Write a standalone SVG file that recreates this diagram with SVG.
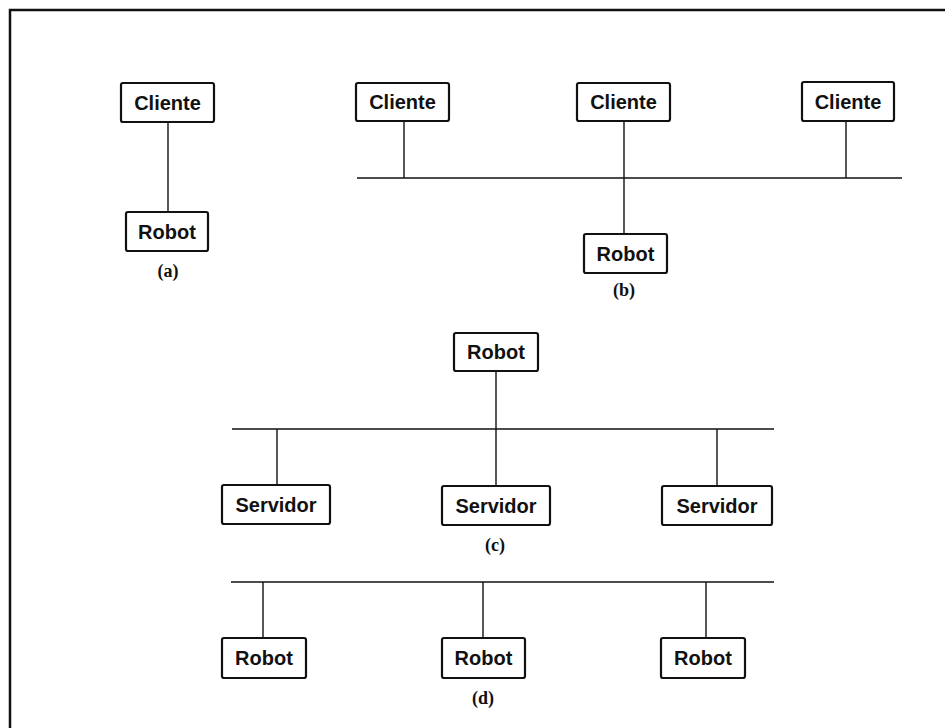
<svg xmlns="http://www.w3.org/2000/svg" width="945" height="728" viewBox="0 0 945 728">
  <style>
    .box rect { fill: #fff; stroke: #111; stroke-width: 2.2; }
    .box text { font-family: "Liberation Sans", Arial, sans-serif; font-weight: bold; font-size: 20px; fill: #111; text-anchor: middle; }
    .wire { stroke: #111; stroke-width: 1.4; fill: none; }
    .cap { font-family: "Liberation Serif", "Times New Roman", serif; font-weight: bold; font-size: 18px; fill: #111; text-anchor: middle; }
    .frame { stroke: #111; stroke-width: 2.5; fill: none; }
  </style>
  <rect width="945" height="728" fill="#fff"/>
  <!-- outer frame: top and left edges -->
  <path class="frame" d="M10,728 V10 H945"/>

  <g id="connectors">
    <!-- (a) -->
    <line class="wire" x1="168" y1="122" x2="168" y2="212"/>
    <!-- (b) -->
    <line class="wire" x1="357" y1="178" x2="902" y2="178"/>
    <line class="wire" x1="404" y1="121" x2="404" y2="178"/>
    <line class="wire" x1="624" y1="121" x2="624" y2="234"/>
    <line class="wire" x1="846" y1="121" x2="846" y2="178"/>
    <!-- (c) -->
    <line class="wire" x1="232" y1="429" x2="774" y2="429"/>
    <line class="wire" x1="496" y1="371" x2="496" y2="486"/>
    <line class="wire" x1="277" y1="429" x2="277" y2="485"/>
    <line class="wire" x1="717" y1="429" x2="717" y2="486"/>
    <!-- (d) -->
    <line class="wire" x1="231" y1="582" x2="774" y2="582"/>
    <line class="wire" x1="263" y1="582" x2="263" y2="638"/>
    <line class="wire" x1="483" y1="582" x2="483" y2="638"/>
    <line class="wire" x1="706" y1="582" x2="706" y2="638"/>
  </g>

  <!-- (a) -->
  <g id="a-cliente" class="box"><rect x="121" y="83" width="93" height="39" rx="2"/><text x="167.5" y="109.5">Cliente</text></g>
  <g id="a-robot" class="box"><rect x="126" y="212" width="82" height="39" rx="2"/><text x="167" y="238.5">Robot</text></g>
  <text class="cap" x="168" y="277">(a)</text>

  <!-- (b) -->
  <g id="b-cliente-1" class="box"><rect x="356" y="83" width="93" height="38" rx="2"/><text x="402.5" y="109">Cliente</text></g>
  <g id="b-cliente-2" class="box"><rect x="577" y="83" width="93" height="38" rx="2"/><text x="623.5" y="109">Cliente</text></g>
  <g id="b-cliente-3" class="box"><rect x="802" y="82" width="92" height="39" rx="2"/><text x="848" y="108.5">Cliente</text></g>
  <g id="b-robot" class="box"><rect x="584" y="234" width="83" height="39" rx="2"/><text x="625.5" y="260.5">Robot</text></g>
  <text class="cap" x="624" y="296">(b)</text>

  <!-- (c) -->
  <g id="c-robot" class="box"><rect x="454" y="333" width="84" height="38" rx="2"/><text x="496" y="359">Robot</text></g>
  <g id="c-servidor-1" class="box"><rect x="222" y="485" width="108" height="39" rx="2"/><text x="276" y="511.5">Servidor</text></g>
  <g id="c-servidor-2" class="box"><rect x="442" y="486" width="108" height="39" rx="2"/><text x="496" y="512.5">Servidor</text></g>
  <g id="c-servidor-3" class="box"><rect x="662" y="486" width="110" height="39" rx="2"/><text x="717" y="512.5">Servidor</text></g>
  <text class="cap" x="495" y="551">(c)</text>

  <!-- (d) -->
  <g id="d-robot-1" class="box"><rect x="222" y="638" width="84" height="40" rx="2"/><text x="264" y="665">Robot</text></g>
  <g id="d-robot-2" class="box"><rect x="442" y="638" width="83" height="40" rx="2"/><text x="483.5" y="665">Robot</text></g>
  <g id="d-robot-3" class="box"><rect x="661" y="638" width="84" height="40" rx="2"/><text x="703" y="665">Robot</text></g>
  <text class="cap" x="483" y="704">(d)</text>
</svg>
